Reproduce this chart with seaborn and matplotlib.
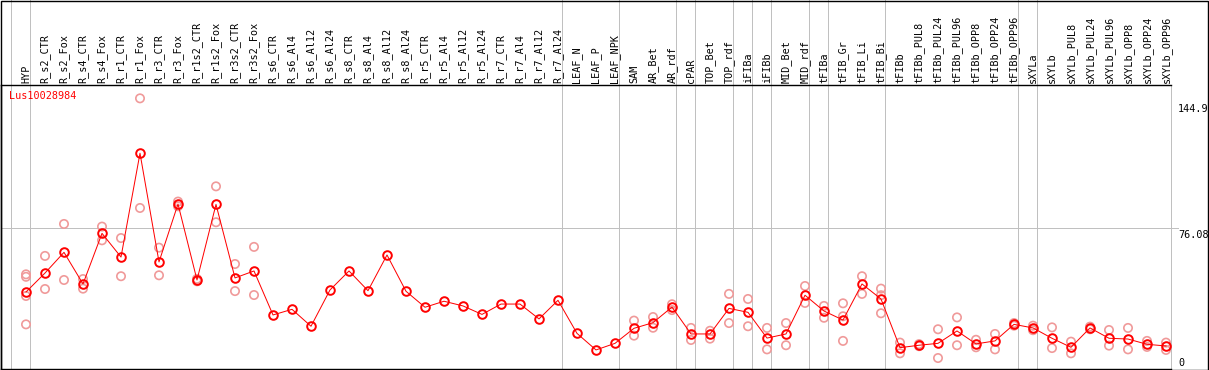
import pandas as pd
import matplotlib.pyplot as plt
import seaborn as sns
from matplotlib.patches import Rectangle
from matplotlib.transforms import blended_transform_factory

# ——— Data ———
samples = [
    "HYP", "R_s2_CTR", "R_s2_Fox", "R_s4_CTR", "R_s4_Fox", "R_r1_CTR", "R_r1_Fox",
    "R_r3_CTR", "R_r3_Fox", "R_r1s2_CTR", "R_r1s2_Fox", "R_r3s2_CTR", "R_r3s2_Fox",
    "R_s6_CTR", "R_s6_Al4", "R_s6_Al12", "R_s6_Al24", "R_s8_CTR", "R_s8_Al4",
    "R_s8_Al12", "R_s8_Al24", "R_r5_CTR", "R_r5_Al4", "R_r5_Al12", "R_r5_Al24",
    "R_r7_CTR", "R_r7_Al4", "R_r7_Al12", "R_r7_Al24", "LEAF_N", "LEAF_P", "LEAF_NPK",
    "SAM", "AR_Bet", "AR_rdf", "cPAR", "TOP_Bet", "TOP_rdf", "iFIBa", "iFIBb",
    "MID_Bet", "MID_rdf", "tFIBa", "tFIB_Gr", "tFIB_Li", "tFIB_Bi", "tFIBb",
    "tFIBb_PUL8", "tFIBb_PUL24", "tFIBb_PUL96", "tFIBb_OPP8", "tFIBb_OPP24",
    "tFIBb_OPP96", "sXYLa", "sXYLb", "sXYLb_PUL8", "sXYLb_PUL24", "sXYLb_PUL96",
    "sXYLb_OPP8", "sXYLb_OPP24", "sXYLb_OPP96",
]

mean_expr = [
    41.9, 52.0, 63.0, 46.2, 73.1, 60.5, 115.7, 57.9, 88.7, 48.3, 88.5, 49.4, 53.1,
    29.7, 32.7, 23.7, 43.0, 53.1, 42.6, 61.6, 42.3, 33.8, 37.0, 34.5, 30.0,
    35.5, 35.5, 27.6, 37.5, 19.9, 11.1, 14.6,
    22.6, 25.6, 33.9, 19.6, 19.6, 33.2, 31.1, 17.4, 19.6, 40.2,
    31.8, 27.0, 46.2, 38.2, 12.3, 13.6, 14.6, 21.2, 14.3, 15.9, 24.7,
    22.8, 17.3, 12.5, 22.8, 17.3, 16.9, 14.1, 13.2,
]

rep_expr = [
    [51.3, 50.0, 39.8, 24.7], [61.1, 43.5], [78.1, 48.3], [48.8, 43.7],
    [76.7, 69.4], [70.6, 50.3], [144.9, 86.6], [65.5, 50.8], [90.0, 87.5],
    [48.9, 47.6], [98.1, 79.0], [56.8, 42.4], [65.9, 40.3],
    [], [], [], [], [], [], [], [], [], [], [], [], [], [], [], [], [], [], [],
    [26.7, 18.7], [28.6, 22.9], [35.4, 32.3], [22.8, 16.4], [21.3, 17.1],
    [40.9, 25.4], [38.2, 23.7], [22.8, 11.4], [25.4, 13.6], [45.1, 36.1],
    [34.5, 28.2], [35.9, 29.0, 15.9], [50.3, 40.9], [43.7, 40.2, 30.6],
    [15.0, 9.3], [14.2, 13.1], [22.1, 6.8], [28.4, 13.6], [16.5, 12.5],
    [19.6, 11.4], [25.4, 24.0], [24.0, 21.6], [23.1, 12.1], [15.5, 9.3],
    [23.5, 22.1], [21.7, 13.4], [22.8, 11.4], [15.9, 12.7], [15.0, 11.1],
]

# group boundaries: index of the last column of each block
group_ends = [-1, 0, 28, 31, 34, 35, 37, 38, 39, 41, 42, 45, 52, 53]
y_ticks = [144.9, 76.08, 0]
gene_id = "Lus10028984"

# ——— Style ———
W, H = 1209, 370
mono = "DejaVu Sans Mono"
red = "#FF0000"
pink = "#F09A9A"
grey = "#C0C0C0"
px = 0.72  # one pixel in points at dpi 100
fs = 7.3

plt.rcParams["font.family"] = [mono]

mean_df = pd.DataFrame({"pos": range(len(samples)), "expr": mean_expr})
rep_df = pd.DataFrame(
    [(i, v) for i, vals in enumerate(rep_expr) for v in vals],
    columns=["pos", "expr"],
)

fig = plt.figure(figsize=(W / 100, H / 100), dpi=100)
ax = fig.add_axes([1 / W, 1 / H, 1170 / W, 284 / H])

sns.scatterplot(data=rep_df, x="pos", y="expr", marker="o", s=36,
                facecolors="none", edgecolor=pink, linewidth=1.2,
                ax=ax, zorder=3)
sns.lineplot(data=mean_df, x="pos", y="expr", color=red, lw=px,
             marker="o", markersize=6.2, markerfacecolor="none",
             markeredgecolor=red, markeredgewidth=1.4, ax=ax, zorder=4)

ax.set_xlim(-25 / 19, 1145 / 19)
ax.set_ylim(0.96, 152.0)

# block separators, running through the header
head = 1 + 85 / 284
for k in group_ends:
    ax.axvline(k + 0.211, ymin=0, ymax=head, color=grey, lw=px,
               clip_on=False, zorder=1)
ax.axhline(76.08, xmin=0, xmax=1.006, color=grey, lw=px, clip_on=False, zorder=1)

# sample names on top
ax.xaxis.tick_top()
ax.set_xticks(range(len(samples)))
ax.set_xticklabels(samples, rotation=90, fontsize=fs, family=mono)
ax.tick_params(axis="x", length=0, pad=1.5)
ax.set_yticks([])
ax.set_xlabel("")
ax.set_ylabel("")

for side in ["left", "top", "bottom"]:
    ax.spines[side].set_color("black")
    ax.spines[side].set_linewidth(1.4 * px)
ax.spines["right"].set_color(grey)
ax.spines["right"].set_linewidth(px)

# value labels on the right
tr = blended_transform_factory(ax.transAxes, ax.transData)
offsets = [(-5.5, "top"), (-1.8, "top"), (2.5, "bottom")]
for val, (dy, va) in zip(y_ticks, offsets):
    lab = f"{val:g}" if val else "0"
    ax.annotate(lab, xy=(1.006, val), xycoords=tr, xytext=(0, dy * px),
                textcoords="offset points", ha="left", va=va,
                fontsize=fs, family=mono, annotation_clip=False)

ax.text(0.0065, 0.978, gene_id, transform=ax.transAxes, color=red,
        fontsize=fs, family=mono, ha="left", va="top")

# outer frame
fig.patches.append(Rectangle((0.5 / W, 0.5 / H), 1 - 1.5 / W, 1 - 1.0 / H,
                             transform=fig.transFigure, fill=False,
                             edgecolor="black", lw=1.4 * px))

fig.savefig("out.png", dpi=100)
